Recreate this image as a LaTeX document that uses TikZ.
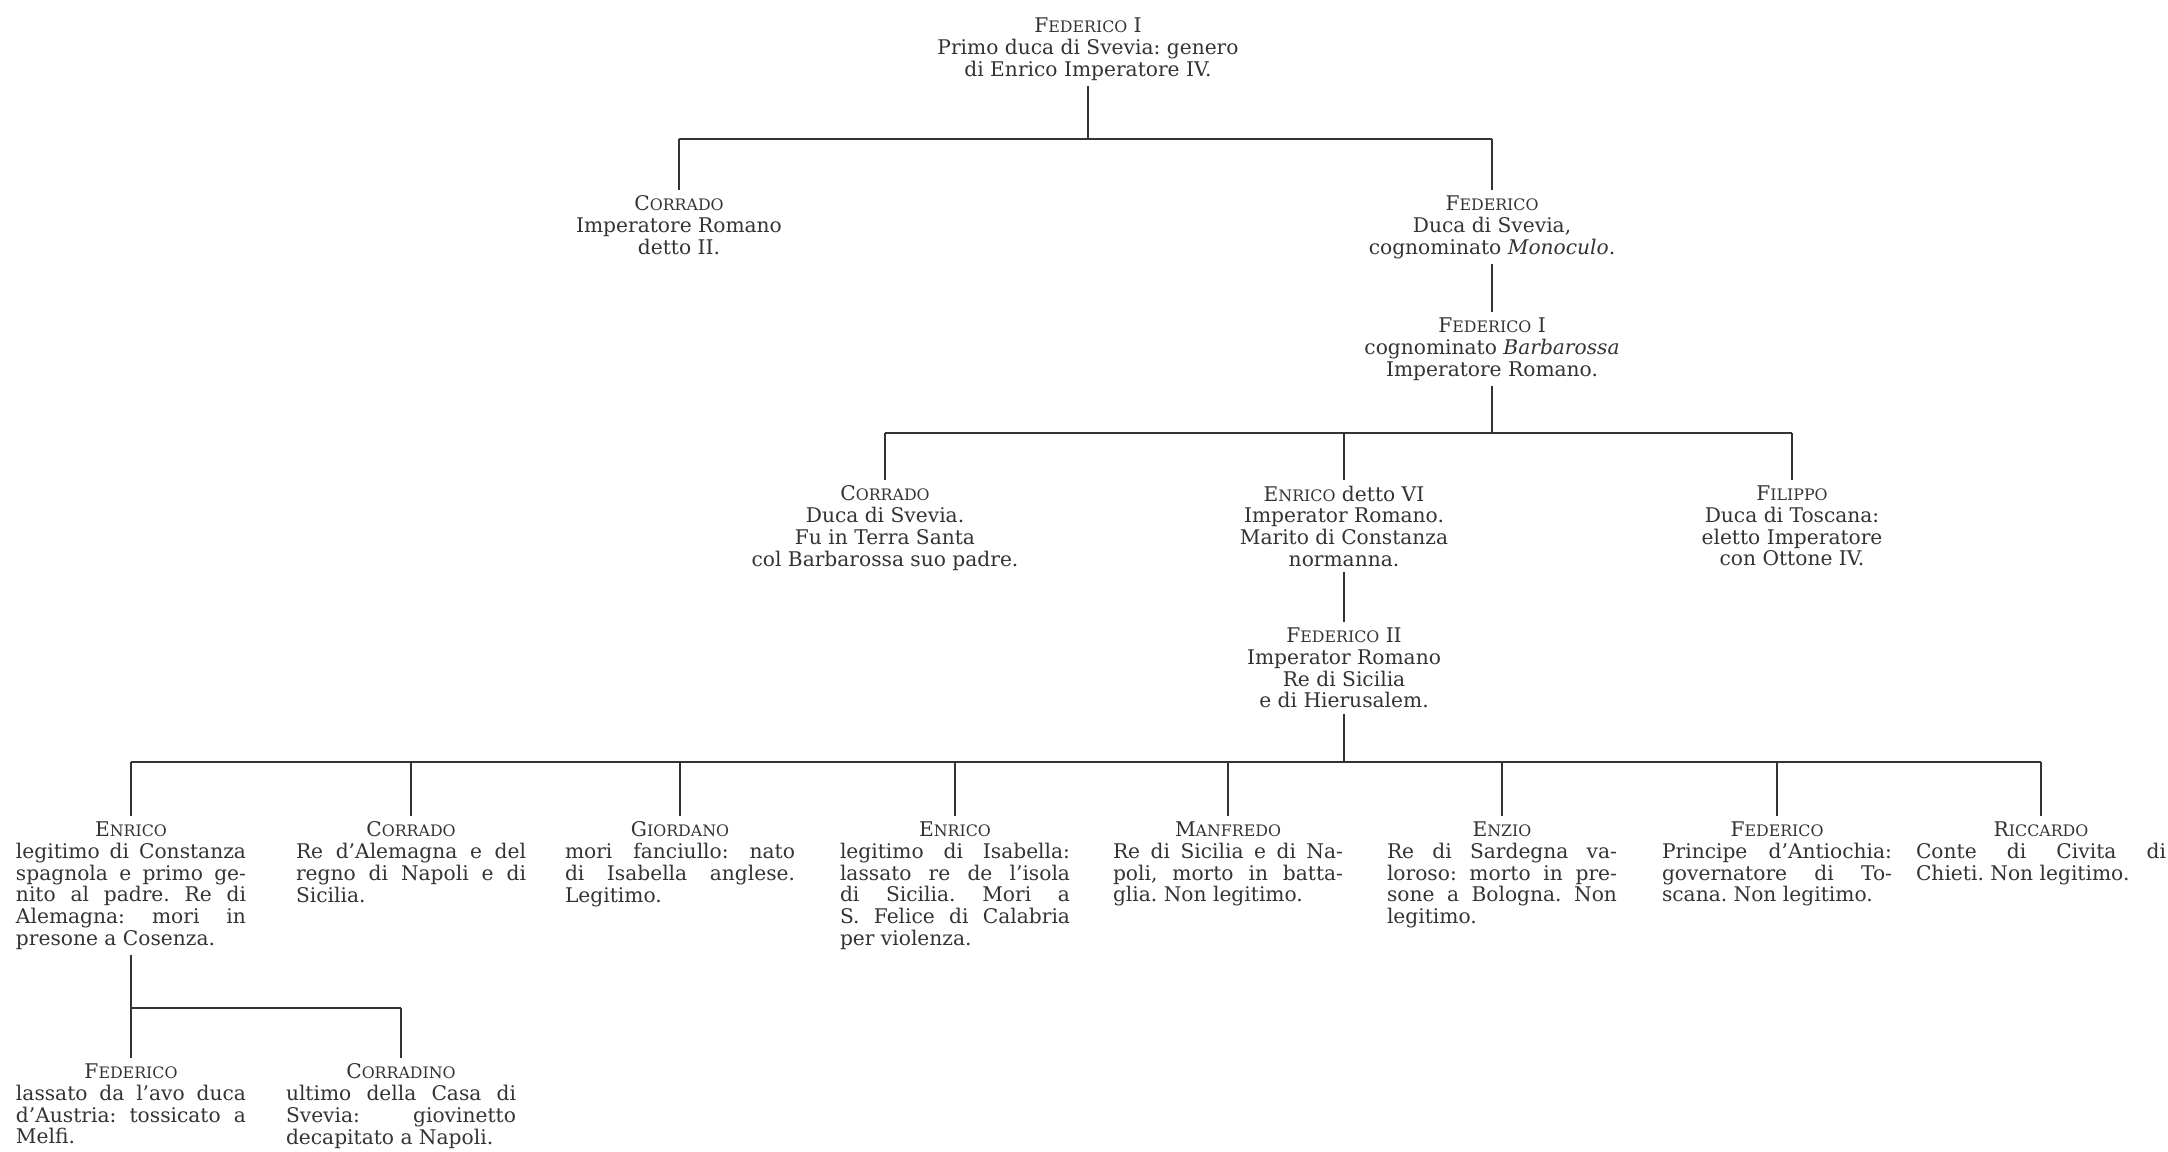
\documentclass[tikz,border=0pt]{standalone}
\usepackage{fontspec}
\setmainfont{DejaVu Serif}
\frenchspacing
\newcommand\nm[2]{#1{\fontsize{9}{10}\selectfont #2}}

\begin{document}
\begin{tikzpicture}[x=0.2mm, y=-0.2mm, line width=0.8pt, color=black!80,
    every node/.style={font=\fontsize{11.5}{12.4}\selectfont, inner xsep=0pt, inner ysep=1mm, anchor=north},
    person/.style={align=center},
    kid/.style={text width=46mm, align=justify}]
    \useasboundingbox (0,0) rectangle (2168,1152);

    % levels of the bars
    \coordinate (barA) at (0,139);
    \coordinate (barB) at (0,433);
    \coordinate (barC) at (0,762);
    \coordinate (barD) at (0,1008);

    \node[person] (root) at (1088,12) {\nm{F}{EDERICO} I\\Primo duca di Svevia: genero\\di Enrico Imperatore IV.};

    \node[person] (corradoII) at (679,190) {\nm{C}{ORRADO}\\Imperatore Romano\\detto II.};
    \node[person] (federicoM) at (1492,190) {\nm{F}{EDERICO}\\Duca di Svevia,\\cognominato \textit{Monoculo}.};
    \node[person] (barbarossa) at (1492,312) {\nm{F}{EDERICO} I\\cognominato \textit{Barbarossa}\\Imperatore Romano.};

    \node[person] (corradoS) at (885,480) {\nm{C}{ORRADO}\\Duca di Svevia.\\Fu in Terra Santa\\col Barbarossa suo padre.};
    \node[person] (enricoVI) at (1344,480) {\nm{E}{NRICO} detto VI\\Imperator Romano.\\Marito di Constanza\\normanna.};
    \node[person] (filippo) at (1792,480) {\nm{F}{ILIPPO}\\Duca di Toscana:\\eletto Imperatore\\con Ottone IV.};
    \node[person] (federicoII) at (1344,622) {\nm{F}{EDERICO} II\\Imperator Romano\\Re di Sicilia\\e di Hierusalem.};

    % sons of Federico II
    \node[kid] (enricoA) at (131,816) {{\centering\nm{E}{NRICO}\par}legitimo di Constanza\linebreak spagnola e primo ge-\linebreak nito al padre. Re di\linebreak Alemagna: mori in\linebreak presone a Cosenza.};
    \node[kid] (corradoK) at (411,816) {{\centering\nm{C}{ORRADO}\par}Re d'Alemagna e del\linebreak regno di Napoli e di\linebreak Sicilia.};
    \node[kid] (giordano) at (680,816) {{\centering\nm{G}{IORDANO}\par}mori fanciullo: nato\linebreak di Isabella anglese.\linebreak Legitimo.};
    \node[kid] (enricoB) at (955,816) {{\centering\nm{E}{NRICO}\par}legitimo di Isabella:\linebreak lassato re de l'isola\linebreak di Sicilia. Mori a\linebreak S. Felice di Calabria\linebreak per violenza.};
    \node[kid] (manfredo) at (1228,816) {{\centering\nm{M}{ANFREDO}\par}Re di Sicilia e di Na-\linebreak poli, morto in batta-\linebreak glia. Non legitimo.};
    \node[kid] (enzio) at (1502,816) {{\centering\nm{E}{NZIO}\par}Re di Sardegna va-\linebreak loroso: morto in pre-\linebreak sone a Bologna. Non\linebreak legitimo.};
    \node[kid] (federicoK) at (1777,816) {{\centering\nm{F}{EDERICO}\par}Principe d'Antiochia:\linebreak governatore di To-\linebreak scana. Non legitimo.};
    \node[kid, text width=50mm] (riccardo) at (2041,816) {{\centering\nm{R}{ICCARDO}\par}Conte di Civita di\linebreak Chieti. Non legitimo.};

    \node[kid] (federicoB) at (131,1058) {{\centering\nm{F}{EDERICO}\par}lassato da l'avo duca\linebreak d'Austria: tossicato a\linebreak Melfi.};
    \node[kid] (corradino) at (401,1058) {{\centering\nm{C}{ORRADINO}\par}ultimo della Casa di\linebreak Svevia: giovinetto\linebreak decapitato a Napoli.};

    % lines of descent
    \draw (root.south) -- (root.south |- barA);
    \draw (corradoII.north |- barA) -- (federicoM.north |- barA);
    \draw (corradoII.north |- barA) -- (corradoII.north);
    \draw (federicoM.north |- barA) -- (federicoM.north);
    \draw (federicoM.south) -- (barbarossa.north);

    \draw (barbarossa.south) -- (barbarossa.south |- barB);
    \draw (corradoS.north |- barB) -- (filippo.north |- barB);
    \draw (corradoS.north |- barB) -- (corradoS.north);
    \draw (enricoVI.north |- barB) -- (enricoVI.north);
    \draw (filippo.north |- barB) -- (filippo.north);
    \draw (enricoVI.south) -- (federicoII.north);

    \draw (federicoII.south) -- (federicoII.south |- barC);
    \draw (enricoA.north |- barC) -- (riccardo.north |- barC);
    \draw (enricoA.north |- barC) -- (enricoA.north);
    \draw (corradoK.north |- barC) -- (corradoK.north);
    \draw (giordano.north |- barC) -- (giordano.north);
    \draw (enricoB.north |- barC) -- (enricoB.north);
    \draw (manfredo.north |- barC) -- (manfredo.north);
    \draw (enzio.north |- barC) -- (enzio.north);
    \draw (federicoK.north |- barC) -- (federicoK.north);
    \draw (riccardo.north |- barC) -- (riccardo.north);

    \draw (enricoA.south) -- (enricoA.south |- barD);
    \draw (federicoB.north |- barD) -- (corradino.north |- barD);
    \draw (federicoB.north |- barD) -- (federicoB.north);
    \draw (corradino.north |- barD) -- (corradino.north);
\end{tikzpicture}
\end{document}
